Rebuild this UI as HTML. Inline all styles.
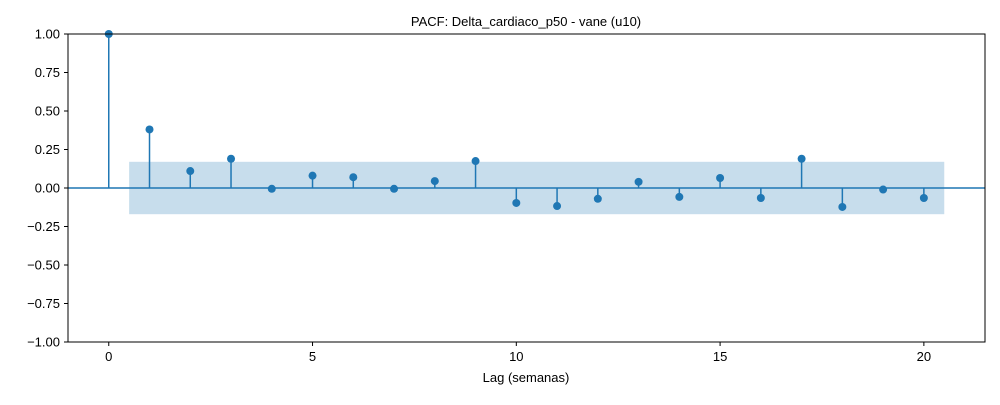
<!DOCTYPE html>
<html><head><meta charset="utf-8"><style>
body{margin:0;background:#fff;}
svg text{font-family:"Liberation Sans","DejaVu Sans",sans-serif;}
</style></head><body>
<svg id="chart" width="1000" height="400" xmlns="http://www.w3.org/2000/svg">
<rect width="1000" height="400" fill="#fff"/>
<text x="526" y="26" font-size="13" text-anchor="middle">PACF: Delta_cardiaco_p50 - vane (u10)</text>
<g id="band"></g>
<g id="marks"></g>
<g id="axes"></g>
<text x="526" y="382" font-size="13" text-anchor="middle">Lag (semanas)</text>
</svg>
<script>
const lags=[0,1,2,3,4,5,6,7,8,9,10,11,12,13,14,15,16,17,18,19,20];
const pacfValues=[1,0.38,0.11,0.19,-0.005,0.08,0.07,-0.005,0.045,0.175,-0.097,-0.117,-0.07,0.04,-0.058,0.065,-0.065,0.19,-0.123,-0.01,-0.065];
const confBound=[0.17];
const yTicks=[-1,-0.75,-0.5,-0.25,0,0.25,0.5,0.75,1];
const yTickLabels=["−1.00","−0.75","−0.50","−0.25","0.00","0.25","0.50","0.75","1.00"];
const xTicks=[0,5,10,15,20];

const L=68,R=985,T=34,B=342,xmin=-1,xmax=21.5,ymin=-1,ymax=1;
const X=v=>L+(v-xmin)/(xmax-xmin)*(R-L);
const Y=v=>B-(v-ymin)/(ymax-ymin)*(B-T);
const NS="http://www.w3.org/2000/svg";
function mk(tag,attrs,parent){const e=document.createElementNS(NS,tag);for(const k in attrs)e.setAttribute(k,attrs[k]);parent.appendChild(e);return e;}
const band=document.getElementById('band'),marks=document.getElementById('marks'),axes=document.getElementById('axes');
const c=confBound[0];
const br=mk('rect',{x:X(0.5),y:Y(c),width:X(20.5)-X(0.5),height:Y(-c)-Y(c),fill:'#1f77b4','fill-opacity':0.25},band);


const zl=mk('line',{x1:L,x2:R,y1:Y(0),y2:Y(0),stroke:'#1f77b4','stroke-width':1.5},marks);


lags.forEach((l,i)=>{
  const s=mk('line',{x1:X(l),x2:X(l),y1:Y(0),y2:Y(pacfValues[i]),stroke:'#1f77b4','stroke-width':1.5},marks);
  
  
  const p=mk('circle',{cx:X(l),cy:Y(pacfValues[i]),r:4,fill:'#1f77b4'},marks);
  
  
});
const fr=mk('rect',{x:L,y:T,width:R-L,height:B-T,fill:'none',stroke:'#000','stroke-width':1},axes);


yTicks.forEach((v,i)=>{
  mk('line',{x1:L-4,x2:L,y1:Y(v),y2:Y(v),stroke:'#000'},axes);
  const t=mk('text',{x:L-8,y:Y(v)+4.5,'font-size':13,'text-anchor':'end'},axes);
  t.textContent=yTickLabels[i];
  
  
});
xTicks.forEach(v=>{
  mk('line',{x1:X(v),x2:X(v),y1:B,y2:B+4,stroke:'#000'},axes);
  const t=mk('text',{x:X(v),y:B+19,'font-size':13,'text-anchor':'middle'},axes);
  t.textContent=v;
  
  
});
</script>
</body></html>
